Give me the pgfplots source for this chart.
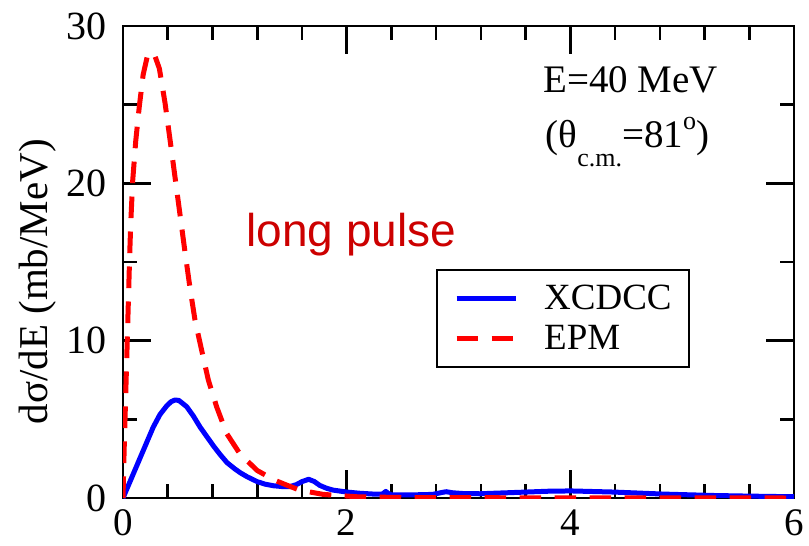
\documentclass[border=0pt]{standalone}
\usepackage{fontspec}
\setmainfont{Liberation Serif}
\newfontfamily\arialfont{Liberation Sans}
\usepackage{pgfplots}
\pgfplotsset{compat=1.18}
\definecolor{darkred}{HTML}{CC0000}
\begin{document}
\begin{tikzpicture}
\begin{axis}[
  scale only axis,
  width=335.5pt, height=236pt,
  xmin=0, xmax=6, ymin=0, ymax=30,
  xtick={0,2,4,6}, ytick={0,10,20,30},
  minor x tick num=4, minor y tick num=1,
  tick align=inside,
  major tick length=14pt, minor tick length=7pt,
  axis line style={line width=1.3pt},
  every tick/.style={black, line width=1.3pt},
  /pgf/number format/assume math mode=true,
  tick label style={font=\fontsize{20}{20}\selectfont, inner sep=0pt},
  xticklabel style={yshift=-5.5pt, font=\fontsize{19.5}{19.5}\selectfont},
  yticklabel style={xshift=-8pt},
  legend style={at={(axis cs:2.8,14.56)}, anchor=north west, draw=black, line width=1pt,
    font=\fontsize{18.5}{18.5}\selectfont, inner xsep=8.5pt, inner ysep=4.5pt,
    row sep=0.5pt, column sep=13pt,
    nodes={inner sep=0pt, text height=15.5pt, text depth=4pt}},
  legend cell align=left,
  legend image code/.code={\draw[#1] (0pt,0pt) -- (29.5pt,0pt);},
]
\coordinate (bl) at (rel axis cs:0,0);
\coordinate (tr) at (rel axis cs:1,1);
\coordinate (ylab) at (rel axis cs:0,0.458);
\addplot[blue, line width=2.5pt, line join=round] coordinates {
(0,0) (0.12,2.0) (0.27,4.5) (0.33,5.3) (0.39,5.85) (0.43,6.12) (0.465,6.23) (0.5,6.2)
(0.57,5.8) (0.63,5.2) (0.69,4.5) (0.75,3.9) (0.81,3.3) (0.87,2.75) (0.93,2.25) (1.0,1.85)
(1.05,1.6) (1.11,1.35) (1.2,1.04) (1.27,0.88) (1.345,0.78) (1.42,0.73) (1.49,0.72)
(1.55,0.85) (1.6,1.04) (1.66,1.19) (1.71,1.05) (1.76,0.8) (1.82,0.62) (1.88,0.5)
(2.0,0.38) (2.12,0.3) (2.24,0.25) (2.32,0.25) (2.35,0.42) (2.37,0.3) (2.4,0.2)
(2.6,0.2) (2.77,0.23) (2.85,0.35) (2.89,0.4) (2.95,0.33) (3.05,0.28) (3.19,0.27)
(3.5,0.35) (3.8,0.43) (4.0,0.45) (4.38,0.38) (4.83,0.25) (5.28,0.16) (5.6,0.12) (6.0,0.08)
};
\addlegendentry{XCDCC}
\addplot[red, line width=2.5pt, dash pattern=on 10.8pt off 6.7pt, line join=round] coordinates {
(0,0) (0.005,1.5) (0.01,3) (0.02,5.5) (0.03,8) (0.04,10.5) (0.05,13) (0.06,15.5)
(0.07,17.6) (0.087,20.2) (0.114,22.7) (0.146,24.9) (0.18,26.9) (0.215,28.0) (0.25,28.35)
(0.285,28.1) (0.325,27.3) (0.376,25.1) (0.42,22.8) (0.465,20.4) (0.51,18.0) (0.555,15.6)
(0.6,13.3) (0.644,11.3) (0.703,9.4) (0.763,7.5) (0.837,5.8) (0.927,4.1) (1.046,2.8)
(1.2,1.75) (1.35,1.15) (1.46,0.83) (1.58,0.5) (1.79,0.23) (2.09,0.08) (2.5,0.03)
(3,0.02) (4,0.01) (6,0.0)
};
\addlegendentry{EPM}
\node[anchor=base, inner sep=0pt, font=\fontsize{19.5}{19.5}\selectfont] at (axis cs:4.54,25.75) {E=40 MeV};
\node[anchor=base, inner sep=0pt, font=\fontsize{19.5}{19.5}\selectfont] at (axis cs:4.51,22.25)
  {(θ\raisebox{-9.5pt}{\fontsize{13}{13}\selectfont c.m.}=81\raisebox{9pt}{\fontsize{13}{13}\selectfont o})};
\node[anchor=base west, inner sep=0pt, text=darkred, font=\arialfont\fontsize{23}{23}\selectfont] at (axis cs:1.1,15.96) {long pulse};
\end{axis}
\node[rotate=90, anchor=base, inner sep=0pt, font=\fontsize{20.5}{20.5}\selectfont] at ([xshift=-38pt]ylab) {dσ/dE (mb/MeV)};
\pgfresetboundingbox
\path[use as bounding box] ([shift={(-61.5pt,-23.5pt)}]bl) rectangle ([shift={(7.5pt,13pt)}]tr);
\end{tikzpicture}
\end{document}
